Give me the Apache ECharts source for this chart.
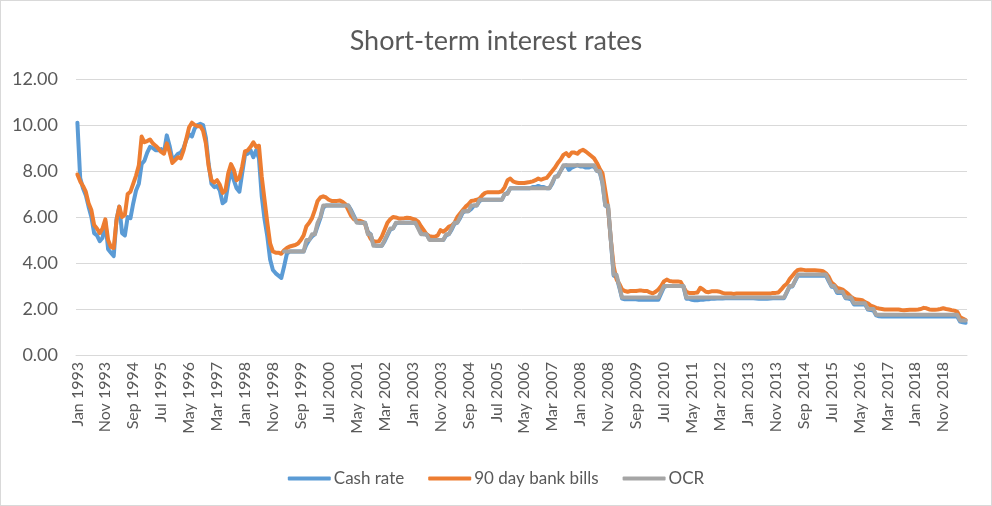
<!DOCTYPE html>
<html>
<head>
<meta charset="utf-8">
<script src="https://cdn.jsdelivr.net/npm/echarts@6/dist/echarts.min.js"></script>
<style>
  html, body { margin: 0; padding: 0; background: #fff; }
  #chart { width: 992px; height: 506px; box-sizing: border-box; border: 1px solid #d9d9d9; }
</style>
</head>
<body>
<div id="chart"></div>
<script>
// ---- Data (monthly, Jan 1993 - Jul 2019) ----
const monthNames = ['Jan','Feb','Mar','Apr','May','Jun','Jul','Aug','Sep','Oct','Nov','Dec'];
const startYear = 1993;
const seriesNames = ['Cash rate', '90 day bank bills', 'OCR'];
const yTicks = { min: 0, max: 12, interval: 2 };

const cashRate = [
  10.1, 7.7, 7.25, 6.95, 6.45, 6.0, 5.3, 5.2, 4.95, 5.1, 5.8, 4.6,            // 1993
  4.45, 4.3, 5.9, 6.45, 5.3, 5.2, 6.0, 5.95, 6.6, 7.15, 7.45, 8.3,            // 1994
  8.45, 8.8, 9.05, 9.0, 8.9, 8.9, 8.95, 8.8, 9.55, 9.1, 8.5, 8.6,             // 1995
  8.75, 8.8, 9.0, 9.35, 9.6, 9.5, 9.85, 10.0, 10.05, 10.0, 9.45, 8.3,         // 1996
  7.45, 7.3, 7.35, 7.15, 6.6, 6.7, 7.45, 8.05, 7.6, 7.25, 7.1, 7.9,           // 1997
  8.7, 8.75, 8.9, 8.6, 8.9, 8.55, 6.9, 5.9, 5.15, 4.15, 3.7, 3.55,            // 1998
  3.45, 3.35, 3.85, 4.4, 4.5, 4.5, 4.5, 4.5, 4.5, 4.5, 4.8, 5.0,              // 1999
  5.15, 5.25, 5.6, 5.95, 6.4, 6.5, 6.5, 6.5, 6.5, 6.5, 6.5, 6.5,              // 2000
  6.5, 6.5, 6.3, 6.05, 5.8, 5.75, 5.75, 5.75, 5.35, 5.25, 4.8, 4.75,          // 2001
  4.75, 4.75, 4.95, 5.2, 5.45, 5.5, 5.72, 5.75, 5.75, 5.75, 5.75, 5.75,       // 2002
  5.75, 5.75, 5.55, 5.3, 5.25, 5.25, 5.05, 5.0, 5.0, 5.0, 5.0, 5.0,           // 2003
  5.2, 5.25, 5.45, 5.7, 5.75, 5.95, 6.2, 6.25, 6.25, 6.35, 6.5, 6.5,         // 2004
  6.7, 6.75, 6.75, 6.75, 6.75, 6.75, 6.75, 6.75, 6.75, 7.0, 7.05, 7.25,      // 2005
  7.25, 7.25, 7.25, 7.25, 7.25, 7.25, 7.25, 7.3, 7.3, 7.35, 7.3, 7.3,        // 2006
  7.25, 7.25, 7.45, 7.75, 7.8, 8.0, 8.2, 8.25, 8.05, 8.15, 8.2, 8.25,        // 2007
  8.2, 8.2, 8.15, 8.15, 8.2, 8.2, 8.0, 7.95, 7.45, 6.5, 6.4, 4.95,           // 2008
  3.45, 3.4, 2.95, 2.45, 2.42, 2.42, 2.42, 2.42, 2.42, 2.4, 2.4, 2.4,        // 2009
  2.4, 2.4, 2.4, 2.4, 2.4, 2.68, 2.95, 3.0, 3.0, 3.0, 3.0, 3.0,              // 2010
  3.0, 2.98, 2.45, 2.45, 2.4, 2.38, 2.38, 2.4, 2.4, 2.42, 2.42, 2.45,        // 2011
  2.45, 2.46, 2.46, 2.46, 2.47, 2.47, 2.47, 2.47, 2.47, 2.47, 2.47, 2.47,    // 2012
  2.47, 2.47, 2.47, 2.46, 2.45, 2.45, 2.45, 2.45, 2.46, 2.47, 2.47, 2.47,    // 2013
  2.47, 2.47, 2.72, 2.97, 2.98, 3.22, 3.45, 3.45, 3.45, 3.45, 3.45, 3.45,    // 2014
  3.45, 3.45, 3.45, 3.45, 3.45, 3.2, 2.97, 2.95, 2.7, 2.7, 2.7, 2.47,        // 2015
  2.45, 2.42, 2.2, 2.2, 2.2, 2.2, 2.2, 1.98, 1.95, 1.93, 1.72, 1.68,         // 2016
  1.67, 1.67, 1.67, 1.67, 1.67, 1.67, 1.67, 1.67, 1.67, 1.67, 1.67, 1.67,    // 2017
  1.67, 1.67, 1.67, 1.67, 1.67, 1.67, 1.67, 1.67, 1.67, 1.67, 1.67, 1.67,    // 2018
  1.67, 1.67, 1.67, 1.67, 1.45, 1.42, 1.4                                    // 2019
];

const bankBills90 = [
  7.85, 7.55, 7.35, 7.1, 6.6, 6.3, 5.65, 5.5, 5.3, 5.5, 5.9, 5.0,             // 1993
  4.7, 4.65, 5.85, 6.45, 6.0, 6.1, 7.0, 7.1, 7.45, 7.8, 8.25, 9.5,            // 1994
  9.25, 9.3, 9.37, 9.2, 9.1, 8.98, 8.83, 8.75, 9.2, 8.83, 8.35, 8.47,         // 1995
  8.6, 8.55, 8.9, 9.4, 9.9, 10.1, 10.0, 9.95, 9.95, 9.75, 9.2, 8.2,           // 1996
  7.6, 7.5, 7.6, 7.4, 7.05, 7.15, 7.9, 8.3, 8.05, 7.6, 7.7, 8.2,              // 1997
  8.85, 8.9, 9.05, 9.25, 9.05, 9.1, 7.75, 6.75, 5.75, 4.85, 4.5, 4.45,        // 1998
  4.45, 4.4, 4.55, 4.65, 4.72, 4.75, 4.78, 4.85, 5.0, 5.2, 5.6, 5.75,         // 1999
  5.95, 6.3, 6.7, 6.85, 6.9, 6.85, 6.75, 6.7, 6.7, 6.7, 6.72, 6.65,           // 2000
  6.55, 6.3, 6.05, 5.9, 5.84, 5.84, 5.8, 5.7, 5.3, 5.05, 4.95, 4.93,          // 2001
  4.95, 5.15, 5.45, 5.75, 5.9, 6.0, 5.98, 5.94, 5.94, 5.95, 5.97, 5.96,       // 2002
  5.92, 5.88, 5.8, 5.6, 5.43, 5.25, 5.17, 5.14, 5.14, 5.2, 5.43, 5.36,        // 2003
  5.45, 5.58, 5.62, 5.75, 6.0, 6.15, 6.3, 6.45, 6.55, 6.7, 6.72, 6.75,        // 2004
  6.8, 6.95, 7.05, 7.08, 7.08, 7.08, 7.08, 7.08, 7.12, 7.3, 7.6, 7.67,        // 2005
  7.55, 7.5, 7.48, 7.48, 7.48, 7.5, 7.52, 7.55, 7.6, 7.67, 7.62, 7.67,        // 2006
  7.7, 7.85, 8.0, 8.15, 8.35, 8.5, 8.7, 8.78, 8.65, 8.8, 8.8, 8.75,           // 2007
  8.87, 8.92, 8.85, 8.75, 8.65, 8.55, 8.35, 8.1, 7.9, 7.15, 6.4, 5.0,         // 2008
  3.85, 3.3, 3.1, 2.85, 2.78, 2.75, 2.78, 2.78, 2.78, 2.8, 2.8, 2.78,         // 2009
  2.78, 2.72, 2.68, 2.75, 2.85, 3.0, 3.2, 3.28, 3.22, 3.2, 3.2, 3.2,          // 2010
  3.18, 2.95, 2.75, 2.7, 2.7, 2.7, 2.72, 2.92, 2.85, 2.75, 2.73, 2.77,        // 2011
  2.77, 2.77, 2.75, 2.7, 2.67, 2.67, 2.67, 2.65, 2.67, 2.67, 2.67, 2.67,      // 2012
  2.67, 2.67, 2.67, 2.67, 2.67, 2.67, 2.67, 2.67, 2.67, 2.7, 2.7, 2.72,       // 2013
  2.85, 3.0, 3.1, 3.3, 3.45, 3.6, 3.7, 3.72, 3.7, 3.68, 3.68, 3.68,           // 2014
  3.68, 3.67, 3.66, 3.64, 3.55, 3.4, 3.15, 3.05, 2.92, 2.88, 2.84, 2.75,      // 2015
  2.65, 2.53, 2.45, 2.41, 2.4, 2.38, 2.3, 2.25, 2.15, 2.1, 2.05, 2.02,        // 2016
  2.0, 1.98, 1.98, 1.98, 1.98, 1.98, 1.98, 1.96, 1.95, 1.96, 1.97, 1.97,      // 2017
  1.97, 1.98, 2.0, 2.05, 2.03, 1.98, 1.97, 1.97, 1.98, 2.0, 2.03, 2.0,        // 2018
  1.98, 1.95, 1.93, 1.88, 1.65, 1.58, 1.52                                    // 2019
];

const ocr = [
  null, null, null, null, null, null, null, null, null, null, null, null,     // 1993
  null, null, null, null, null, null, null, null, null, null, null, null,     // 1994
  null, null, null, null, null, null, null, null, null, null, null, null,     // 1995
  null, null, null, null, null, null, null, null, null, null, null, null,     // 1996
  null, null, null, null, null, null, null, null, null, null, null, null,     // 1997
  null, null, null, null, null, null, null, null, null, null, null, null,     // 1998
  null, null, 4.5, 4.5, 4.5, 4.5, 4.5, 4.5, 4.5, 4.5, 5.0, 5.0,               // 1999
  5.25, 5.25, 5.75, 6.0, 6.5, 6.5, 6.5, 6.5, 6.5, 6.5, 6.5, 6.5,             // 2000
  6.5, 6.5, 6.25, 6.0, 5.75, 5.75, 5.75, 5.75, 5.25, 5.25, 4.75, 4.75,       // 2001
  4.75, 4.75, 5.0, 5.25, 5.5, 5.5, 5.75, 5.75, 5.75, 5.75, 5.75, 5.75,       // 2002
  5.75, 5.75, 5.5, 5.25, 5.25, 5.25, 5.0, 5.0, 5.0, 5.0, 5.0, 5.0,           // 2003
  5.25, 5.25, 5.5, 5.75, 5.75, 6.0, 6.25, 6.25, 6.25, 6.5, 6.5, 6.5,         // 2004
  6.75, 6.75, 6.75, 6.75, 6.75, 6.75, 6.75, 6.75, 6.75, 7.0, 7.0, 7.25,      // 2005
  7.25, 7.25, 7.25, 7.25, 7.25, 7.25, 7.25, 7.25, 7.25, 7.25, 7.25, 7.25,    // 2006
  7.25, 7.25, 7.5, 7.75, 7.75, 8.0, 8.25, 8.25, 8.25, 8.25, 8.25, 8.25,      // 2007
  8.25, 8.25, 8.25, 8.25, 8.25, 8.25, 8.0, 8.0, 7.5, 6.5, 6.5, 5.0,          // 2008
  3.5, 3.5, 3.0, 2.5, 2.5, 2.5, 2.5, 2.5, 2.5, 2.5, 2.5, 2.5,                // 2009
  2.5, 2.5, 2.5, 2.5, 2.5, 2.75, 3.0, 3.0, 3.0, 3.0, 3.0, 3.0,               // 2010
  3.0, 3.0, 2.5, 2.5, 2.5, 2.5, 2.5, 2.5, 2.5, 2.5, 2.5, 2.5,                // 2011
  2.5, 2.5, 2.5, 2.5, 2.5, 2.5, 2.5, 2.5, 2.5, 2.5, 2.5, 2.5,                // 2012
  2.5, 2.5, 2.5, 2.5, 2.5, 2.5, 2.5, 2.5, 2.5, 2.5, 2.5, 2.5,                // 2013
  2.5, 2.5, 2.75, 3.0, 3.0, 3.25, 3.5, 3.5, 3.5, 3.5, 3.5, 3.5,              // 2014
  3.5, 3.5, 3.5, 3.5, 3.5, 3.25, 3.0, 3.0, 2.75, 2.75, 2.75, 2.5,            // 2015
  2.5, 2.5, 2.25, 2.25, 2.25, 2.25, 2.25, 2.0, 2.0, 2.0, 1.75, 1.75,         // 2016
  1.75, 1.75, 1.75, 1.75, 1.75, 1.75, 1.75, 1.75, 1.75, 1.75, 1.75, 1.75,    // 2017
  1.75, 1.75, 1.75, 1.75, 1.75, 1.75, 1.75, 1.75, 1.75, 1.75, 1.75, 1.75,    // 2018
  1.75, 1.75, 1.75, 1.75, 1.5, 1.5, 1.5                                      // 2019
];

// ---- Category labels built from the month list ----
const categories = [];
for (let i = 0; i < cashRate.length; i++) {
  categories.push(monthNames[i % 12] + ' ' + (startYear + Math.floor(i / 12)));
}

const FONT = 'Lato, "Open Sans", sans-serif';
const TXT = '#595959';
const colors = ['#5B9BD5', '#ED7D31', '#A5A5A5'];

const chart = echarts.init(document.getElementById('chart'));
const lineStyle = (c) => ({ color: c, width: 4, cap: 'round', join: 'round' });

chart.setOption({
  animation: false,
  color: colors,
  textStyle: { fontFamily: FONT },
  title: {
    text: 'Short-term interest rates',
    left: 'center',
    top: 22,
    textStyle: { fontFamily: FONT, fontSize: 27, fontWeight: 'normal', color: TXT }
  },
  legend: {
    data: seriesNames,
    top: 464,
    left: 'center',
    icon: 'roundRect',
    itemWidth: 43,
    itemHeight: 4,
    itemGap: 24,
    textStyle: { fontFamily: FONT, fontSize: 17, color: TXT, padding: [0, 0, 0, -2] }
  },
  grid: { left: 75, right: 24, top: 78, bottom: 150, containLabel: false },
  xAxis: {
    type: 'category',
    data: categories,
    boundaryGap: true,
    axisLine: { show: true, lineStyle: { color: '#d9d9d9', width: 1 } },
    axisTick: { show: false },
    axisLabel: {
      interval: 9,
      rotate: 90,
      margin: 7,
      fontFamily: FONT,
      fontSize: 16,
      color: TXT
    }
  },
  yAxis: {
    type: 'value',
    min: yTicks.min,
    max: yTicks.max,
    interval: yTicks.interval,
    axisLine: { show: false },
    axisTick: { show: false },
    splitLine: { lineStyle: { color: '#d9d9d9', width: 1 } },
    axisLabel: {
      margin: 18,
      fontFamily: FONT,
      fontSize: 18,
      color: TXT,
      formatter: (v) => v.toFixed(2)
    }
  },
  series: [
    { name: seriesNames[0], type: 'line', data: cashRate, symbol: 'none', lineStyle: lineStyle(colors[0]), z: 2 },
    { name: seriesNames[1], type: 'line', data: bankBills90, symbol: 'none', lineStyle: lineStyle(colors[1]), z: 3 },
    { name: seriesNames[2], type: 'line', data: ocr, symbol: 'none', connectNulls: false, lineStyle: lineStyle(colors[2]), z: 4 }
  ]
});
</script>
</body>
</html>
